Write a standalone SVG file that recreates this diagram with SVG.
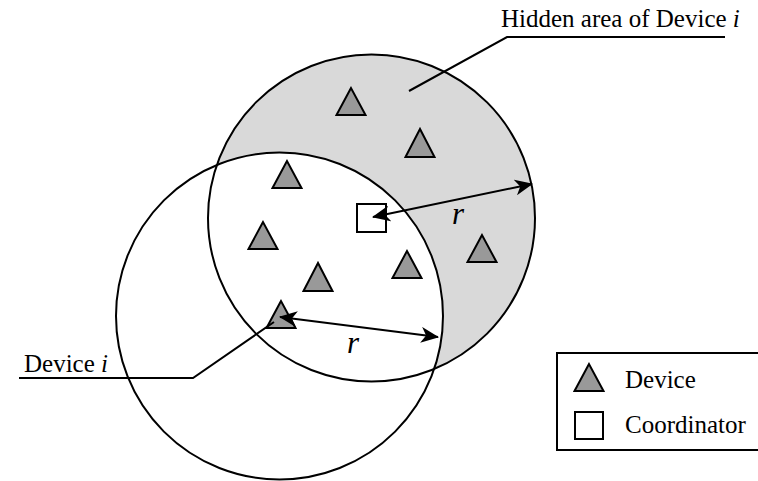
<svg xmlns="http://www.w3.org/2000/svg" width="758" height="481" viewBox="0 0 758 481">
  <style>
    .ring { fill: none; stroke: #000; stroke-width: 2; }
    .dev { fill: #999999; stroke: #000; stroke-width: 2; stroke-linejoin: miter; }
    .coord { fill: #fff; stroke: #000; stroke-width: 2; }
    .ln { fill: none; stroke: #000; stroke-width: 2; }
    .lbl { font-family: "Liberation Serif", "Times New Roman", serif; font-size: 25px; fill: #000; }
    .r { font-family: "Liberation Serif", "Times New Roman", serif; font-size: 31px; font-style: italic; fill: #000; }
  </style>
  <defs>
    <marker id="ah" viewBox="0 0 18 16" refX="17" refY="8" markerWidth="18" markerHeight="16" markerUnits="userSpaceOnUse" orient="auto-start-reverse">
      <path d="M0,0 L18,8 L0,16 L5,8 Z" fill="#000"/>
    </marker>
  </defs>
  <rect width="758" height="481" fill="#fff"/>

  <g id="areas">
    <circle id="coordinator-range" cx="371.5" cy="218" r="163.5" fill="#d9d9d9"/>
    <circle id="device-range" cx="279.5" cy="316" r="163.5" fill="#fff"/>
    <circle class="ring" cx="371.5" cy="218" r="163.5"/>
    <circle class="ring" cx="279.5" cy="316" r="163.5"/>
  </g>

  <g id="dev1"><polygon class="dev" points="351,88 336.5,115 365.5,115"/></g>
  <g id="dev2"><polygon class="dev" points="420,129 405.5,157 434.5,157"/></g>
  <g id="dev3"><polygon class="dev" points="287,161 272.5,188 301.5,188"/></g>
  <g id="dev4"><polygon class="dev" points="263,222 248.5,249 277.5,249"/></g>
  <g id="dev5"><polygon class="dev" points="318,263 303.5,291 332.5,291"/></g>
  <g id="dev6"><polygon class="dev" points="407,251 392.5,278 421.5,278"/></g>
  <g id="dev7"><polygon class="dev" points="482,235 467.5,262 496.5,262"/></g>
  <g id="device-i"><polygon class="dev" points="281,301 266.5,328 295.5,328"/></g>
  <g id="coordinator"><rect class="coord" x="357" y="204" width="29" height="28"/></g>

  <g id="connectors">
    <line class="ln" x1="373" y1="217" x2="532" y2="184" marker-start="url(#ah)" marker-end="url(#ah)"/>
    <line class="ln" x1="280" y1="317" x2="438" y2="337" marker-start="url(#ah)" marker-end="url(#ah)"/>
    <polyline class="ln" points="725,37 507,37 409,91"/>
    <polyline class="ln" points="19,378 193,378 274,322"/>
  </g>

  <g id="labels">
    <text class="lbl" x="501" y="27">Hidden area of Device <tspan font-style="italic">i</tspan></text>
    <text class="lbl" x="24" y="372">Device <tspan font-style="italic">i</tspan></text>
    <text class="r" x="452" y="224">r</text>
    <text class="r" x="347" y="353">r</text>
  </g>

  <g id="legend">
    <rect x="557" y="353" width="210" height="97" fill="#fff" stroke="#000" stroke-width="2"/>
    <polygon class="dev" points="589,364 574.5,391 603.5,391"/>
    <rect class="coord" x="575" y="412" width="28" height="27"/>
    <text class="lbl" x="625" y="388">Device</text>
    <text class="lbl" x="625" y="433">Coordinator</text>
  </g>
</svg>
